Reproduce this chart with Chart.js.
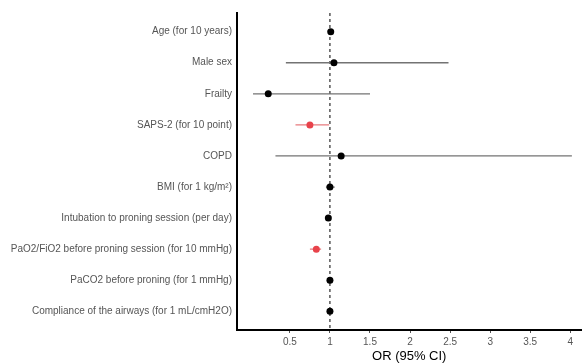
<!DOCTYPE html>
<html>
<head>
<meta charset="utf-8">
<script src="https://cdn.jsdelivr.net/npm/chart.js@4/dist/chart.umd.min.js"></script>
<style>
html,body{margin:0;padding:0;background:#fff;}
</style>
</head>
<body>
<canvas id="c" width="585" height="363"></canvas>
<script>
const categories = [
  "Age (for 10 years)",
  "Male sex",
  "Frailty",
  "SAPS-2 (for 10 point)",
  "COPD",
  "BMI (for 1 kg/m²)",
  "Intubation to proning session (per day)",
  "PaO2/FiO2 before proning session (for 10 mmHg)",
  "PaCO2 before proning (for 1 mmHg)",
  "Compliance of the airways (for 1 mL/cmH2O)"
];
const oddsRatio = [1.01, 1.05, 0.23, 0.75, 1.14, 1.00, 0.98, 0.83, 1.00, 1.00];
const ciLower   = [0.99, 0.45, 0.04, 0.57, 0.32, 0.95, 0.95, 0.75, 0.99, 0.99];
const ciUpper   = [1.03, 2.48, 1.50, 0.99, 4.02, 1.06, 1.01, 0.89, 1.01, 1.01];
const significant = [false, false, false, true, false, false, false, true, false, false];
const xTicks = [0.5, 1, 1.5, 2, 2.5, 3, 3.5, 4];
const referenceOR = 1;

const RED = '#e8434b';
const RED_LINE = '#e77a7e';
const GREY_LINE = '#737373';

const datasets = [];
datasets.push({
  type: 'scatter',
  label: 'OR',
  data: oddsRatio.map((v, i) => ({x: v, y: i})),
  pointRadius: 3.5,
  pointHoverRadius: 3.5,
  pointBackgroundColor: significant.map(s => s ? RED : '#000'),
  pointBorderColor: significant.map(s => s ? RED : '#000'),
  pointBorderWidth: 0,
  order: 0
});
categories.forEach((c, i) => {
  datasets.push({
    type: 'line',
    label: 'CI ' + c,
    data: [{x: ciLower[i], y: i}, {x: ciUpper[i], y: i}],
    borderColor: significant[i] ? RED_LINE : GREY_LINE,
    borderWidth: 1.3,
    pointRadius: 0,
    order: 1
  });
});
datasets.push({
  type: 'line',
  label: 'ref',
  data: [{x: referenceOR, y: -0.6}, {x: referenceOR, y: categories.length - 0.4}],
  borderColor: '#000',
  borderWidth: 1,
  borderDash: [3, 3],
  pointRadius: 0,
  order: 2
});

new Chart(document.getElementById('c'), {
  type: 'scatter',
  data: { datasets },
  options: {
    responsive: false,
    animation: false,
    events: [],
    layout: { padding: { top: 13, right: 0, bottom: 0, left: 0 } },
    plugins: { legend: { display: false }, tooltip: { enabled: false } },
    scales: {
      x: {
        type: 'linear',
        min: -0.16,
        max: 4.14,
        afterBuildTicks: s => { s.ticks = xTicks.map(v => ({value: v})); },
        afterFit: s => { s.height = 33; },
        grid: { display: true, drawOnChartArea: false, drawTicks: true, tickLength: 3, color: '#555', lineWidth: 1 },
        border: { display: true, color: '#000', width: 2 },
        ticks: {
          color: '#555',
          font: { family: 'Liberation Sans', size: 10 },
          padding: 3,
          maxRotation: 0,
          callback: v => String(v)
        },
        title: {
          display: true,
          text: 'OR (95% CI)',
          color: '#000',
          font: { family: 'Liberation Sans', size: 13 },
          padding: { top: 0, bottom: -1 }
        }
      },
      y: {
        type: 'linear',
        reverse: true,
        min: -0.6,
        max: categories.length - 0.4,
        afterBuildTicks: s => { s.ticks = categories.map((c, i) => ({value: i})); },
        afterFit: s => { s.width = 237; },
        grid: { display: false, drawTicks: false },
        border: { display: true, color: '#000', width: 2 },
        ticks: {
          color: '#555',
          font: { family: 'Liberation Sans', size: 10 },
          padding: 5,
          callback: v => categories[v]
        }
      }
    }
  }
});
</script>
</body>
</html>
